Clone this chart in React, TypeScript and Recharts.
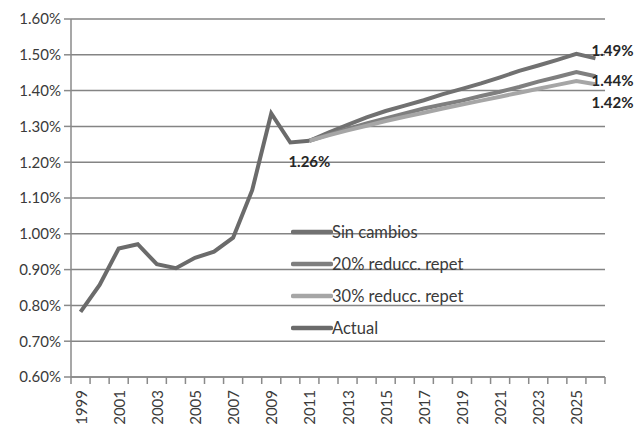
import React from 'react';
import { LineChart, Line, XAxis, YAxis, CartesianGrid } from 'recharts';

const years = [1999,2000,2001,2002,2003,2004,2005,2006,2007,2008,2009,2010,2011,2012,2013,2014,2015,2016,2017,2018,2019,2020,2021,2022,2023,2024,2025,2026];
const actual = [0.782,0.857,0.959,0.971,0.915,0.904,0.933,0.950,0.989,1.122,1.336,1.255,1.26,null,null,null,null,null,null,null,null,null,null,null,null,null,null,null];
const sinCambios = [null,null,null,null,null,null,null,null,null,null,null,null,1.26,1.283,1.304,1.325,1.343,1.358,1.373,1.39,1.405,1.42,1.437,1.455,1.47,1.486,1.503,1.49];
const reducc20 = [null,null,null,null,null,null,null,null,null,null,null,null,1.26,1.277,1.293,1.308,1.322,1.336,1.35,1.361,1.372,1.385,1.397,1.41,1.425,1.438,1.452,1.44];
const reducc30 = [null,null,null,null,null,null,null,null,null,null,null,null,1.26,1.275,1.289,1.302,1.315,1.327,1.338,1.35,1.361,1.372,1.383,1.394,1.405,1.416,1.427,1.418];
const yTicks = [0.6,0.7,0.8,0.9,1.0,1.1,1.2,1.3,1.4,1.5,1.6];
const seriesNames = ['Sin cambios','20% reducc. repet','30% reducc. repet','Actual'];
const seriesColors = ['#717171','#7f7f7f','#a6a6a6','#6b6b6b'];

const data = years.map((y, i) => ({
  year: String(y),
  sin: sinCambios[i],
  r20: reducc20[i],
  r30: reducc30[i],
  actual: actual[i],
}));

const FONT = 'Lato, "Open Sans", sans-serif';
const W = 638, H = 425;
const M = { top: 19, right: 33, left: 0, bottom: 0 };
const YW = 71;
const XH = 48;
const BAND = (W - M.right - YW) / years.length;

const XTick = (props: any) => {
  const { x, y, payload, index } = props;
  const half = BAND / 2;
  const showLabel = index % 2 === 0;
  return (
    <g>
      <line x1={x - half} x2={x - half} y1={y - 8} y2={y - 1} stroke="#8a8a8a" strokeWidth={1.5} />
      {index === years.length - 1 && (
        <line x1={x + half} x2={x + half} y1={y - 8} y2={y - 1} stroke="#8a8a8a" strokeWidth={1.5} />
      )}
      {showLabel && (
        <text x={x} y={y + 5} transform={`rotate(-90 ${x} ${y + 5})`} textAnchor="end" dominantBaseline="central" fontSize={15} fontFamily={FONT} fill="#3a3a3a">
          {payload.value}
        </text>
      )}
    </g>
  );
};

const makeEndLabel = (targetIndex: number, dx: number, dy: number, anchor: string) => (props: any) => {
  const { x, y, value, index } = props;
  if (index !== targetIndex || value == null) return null;
  return (
    <text x={x + dx} y={y + dy} textAnchor={anchor} dominantBaseline="central" fontSize={15} fontWeight="bold" fontFamily={FONT} fill="#262626">
      {Number(value).toFixed(2)}%
    </text>
  );
};

const LegendBox = () => (
  <div style={{ position: 'absolute', left: 291, top: 216, width: 220, pointerEvents: 'none' }}>
    {seriesNames.map((name, i) => (
      <div key={i} style={{ display: 'flex', alignItems: 'center', height: 32 }}>
        <svg width={42} height={8} style={{ display: 'block' }}>
          <line x1={2} x2={40} y1={4} y2={4} stroke={seriesColors[i]} strokeWidth={4.5} strokeLinecap="round" />
        </svg>
        <span style={{ fontFamily: FONT, fontSize: 16.5, color: '#3a3a3a', whiteSpace: 'nowrap', marginLeft: -1 }}>{name}</span>
      </div>
    ))}
  </div>
);

export default function App() {
  return (
    <div style={{ position: 'absolute', left: 0, top: 0, width: W, height: H, background: '#fff' }}>
      <LineChart width={W} height={H} data={data} margin={M}>
        <CartesianGrid horizontal vertical={false} stroke="#848484" strokeWidth={1.5} />
        <XAxis
          dataKey="year"
          scale="band"
          interval={0}
          height={XH}
          tick={<XTick />}
          tickLine={false}
          axisLine={{ stroke: '#8a8a8a', strokeWidth: 1.5 }}
        />
        <YAxis
          width={YW}
          domain={[0.6, 1.6]}
          ticks={yTicks}
          tickFormatter={(v: number) => v.toFixed(2) + '%'}
          tick={{ fontSize: 15, fontFamily: FONT, fill: '#3a3a3a' }}
          tickLine={{ stroke: '#8a8a8a', strokeWidth: 1.5 }}
          tickSize={7}
          tickMargin={3}
          axisLine={{ stroke: '#8a8a8a', strokeWidth: 1.5 }}
        />
        <Line name={seriesNames[0]} dataKey="sin" stroke={seriesColors[0]} strokeWidth={4} dot={false} isAnimationActive={false}
          label={makeEndLabel(years.length - 1, -4, -8, 'start')} />
        <Line name={seriesNames[1]} dataKey="r20" stroke={seriesColors[1]} strokeWidth={4} dot={false} isAnimationActive={false}
          label={makeEndLabel(years.length - 1, -4, 4, 'start')} />
        <Line name={seriesNames[2]} dataKey="r30" stroke={seriesColors[2]} strokeWidth={4} dot={false} isAnimationActive={false}
          label={makeEndLabel(years.length - 1, -4, 18, 'start')} />
        <Line name={seriesNames[3]} dataKey="actual" stroke={seriesColors[3]} strokeWidth={4} dot={false} isAnimationActive={false}
          label={makeEndLabel(12, 0, 20, 'middle')} />
      </LineChart>
      <LegendBox />
    </div>
  );
}
